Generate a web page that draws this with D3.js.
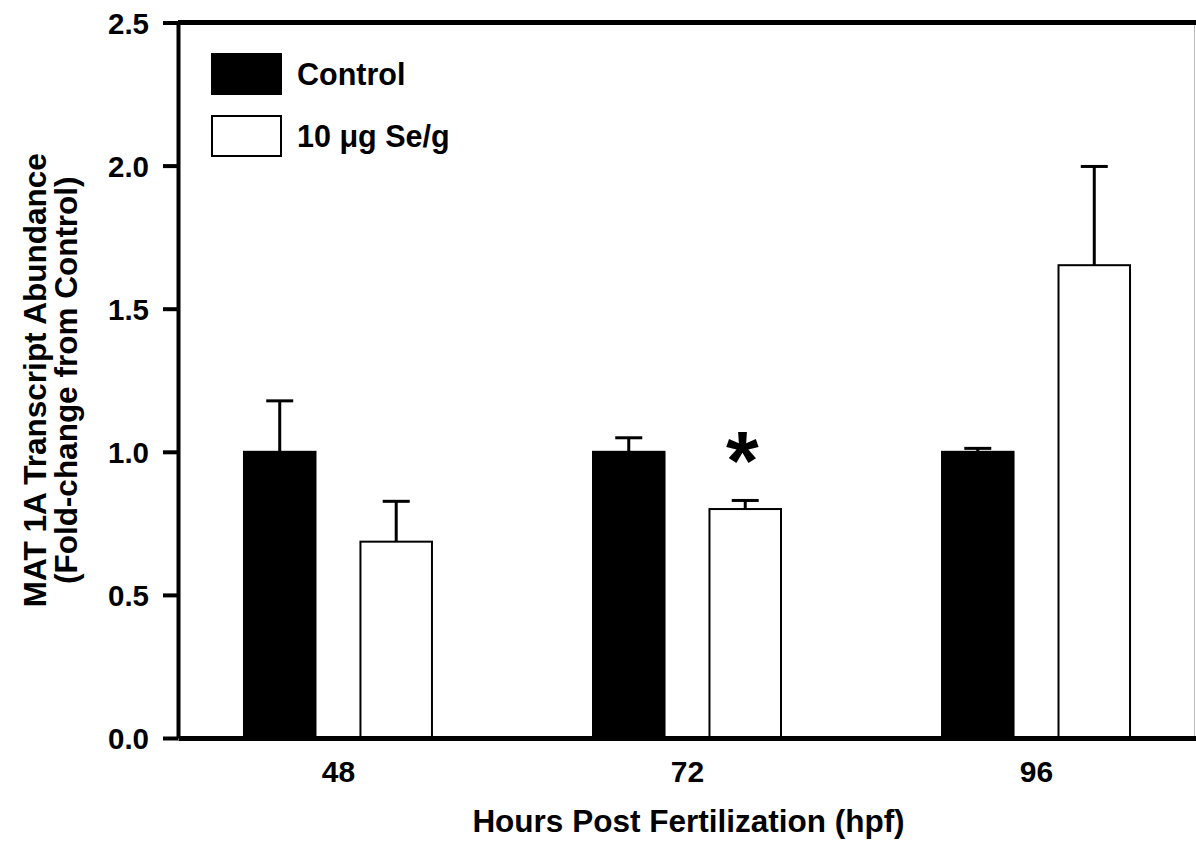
<!DOCTYPE html>
<html>
<head>
<meta charset="utf-8">
<script src="https://cdn.jsdelivr.net/npm/d3@7"></script>
<style>
  html, body { margin: 0; padding: 0; background: #fff; }
  svg { display: block; font-family: "Liberation Sans", Arial, sans-serif; font-weight: bold; }
</style>
</head>
<body>
<svg id="chart" width="1196" height="848"></svg>
<script>
// Sampling times (hours post fertilization)
const hours = [48, 72, 96];
const seriesNames = ["Control", "10 μg Se/g"];
// Mean fold-change and upper error (SEM) per time point
const controlMean = [1.0, 1.0, 1.0];
const controlErr = [0.178, 0.049, 0.012];
const seleniumMean = [0.686, 0.80, 1.652];
const seleniumErr = [0.141, 0.03, 0.345];
// Significant difference from control at each time point
const seleniumSignificant = [false, true, false];
const yTicks = [0.0, 0.5, 1.0, 1.5, 2.0, 2.5];

const svg = d3.select("#chart");
const W = 1196, H = 848;
const plotL = 178, plotR = 1196, plotT = 22.5, plotB = 738;

const x = d3.scaleLinear().domain([37, 107]).range([plotL, plotR]);
const y = d3.scaleLinear().domain([0, 2.5]).range([plotB, plotT]);
const sub = d3.scaleBand().domain(seriesNames).range([-94, 94]).paddingInner(0.386).paddingOuter(0);

const fills = { "Control": "#000", "10 μg Se/g": "#fff" };

const rows = [];
hours.forEach((h, i) => {
  rows.push({ h, s: seriesNames[0], v: controlMean[i], e: controlErr[i], sig: false });
  rows.push({ h, s: seriesNames[1], v: seleniumMean[i], e: seleniumErr[i], sig: seleniumSignificant[i] });
});

// faint frame edge on the right
svg.append("line").attr("x1", W - 1.5).attr("x2", W - 1.5).attr("y1", plotT).attr("y2", plotB)
  .attr("stroke", "#bbb").attr("stroke-width", 1);

// error bars (upper only), drawn beneath bars
const eb = svg.append("g");
rows.forEach(d => {
  const cx = x(d.h) + sub(d.s) + sub.bandwidth() / 2;
  eb.append("line").attr("x1", cx).attr("x2", cx).attr("y1", y(d.v)).attr("y2", y(d.v + d.e))
    .attr("stroke", "#000").attr("stroke-width", 3);
  eb.append("line").attr("x1", cx - 13.5).attr("x2", cx + 13.5).attr("y1", y(d.v + d.e)).attr("y2", y(d.v + d.e))
    .attr("stroke", "#000").attr("stroke-width", 3);
});

// bars
svg.append("g").selectAll("rect").data(rows).join("rect")
  .attr("x", d => x(d.h) + sub(d.s))
  .attr("width", sub.bandwidth())
  .attr("y", d => y(d.v))
  .attr("height", d => y(0) - y(d.v))
  .attr("fill", d => fills[d.s])
  .attr("stroke", "#000")
  .attr("stroke-width", 2);

// significance markers
svg.append("g").selectAll("text").data(rows.filter(d => d.sig)).join("text")
  .attr("x", d => x(d.h) + sub(d.s) + sub.bandwidth() / 2 - 3)
  .attr("y", d => y(d.v + d.e) - 10)
  .attr("text-anchor", "middle")
  .attr("font-size", 84)
  .text("*");

// top frame line
svg.append("line").attr("x1", plotL).attr("x2", plotR).attr("y1", plotT).attr("y2", plotT)
  .attr("stroke", "#000").attr("stroke-width", 5);

// y axis
const yAxis = svg.append("g").attr("transform", `translate(${plotL},0)`)
  .call(d3.axisLeft(y).tickValues(yTicks).tickFormat(d3.format(".1f")).tickSize(15).tickSizeOuter(0).tickPadding(14));
yAxis.select(".domain").attr("stroke-width", 4);
yAxis.selectAll(".tick line").attr("stroke-width", 4);
yAxis.selectAll(".tick text").attr("font-size", 29.5).attr("font-family", "Liberation Sans, Arial, sans-serif")
  .attr("font-weight", "bold").attr("fill", "#000").attr("dy", "0.36em");

// x axis
const xAxis = svg.append("g").attr("transform", `translate(0,${plotB})`)
  .call(d3.axisBottom(x).tickValues(hours).tickFormat(d3.format("d")).tickSize(0).tickSizeOuter(0).tickPadding(38));
xAxis.select(".domain").attr("stroke-width", 5);
xAxis.selectAll(".tick text").attr("font-size", 30).attr("font-family", "Liberation Sans, Arial, sans-serif")
  .attr("font-weight", "bold").attr("fill", "#000").attr("dy", "0.2em");

// axis titles
svg.append("text").attr("x", (474 + 903) / 2).attr("y", 832).attr("text-anchor", "middle")
  .attr("font-size", 31.5).text("Hours Post Fertilization (hpf)");
const yt = svg.append("g").attr("transform", `translate(0,${(plotT + plotB) / 2}) rotate(-90)`);
yt.append("text").attr("x", 0).attr("y", 46).attr("text-anchor", "middle").attr("font-size", 31.5)
  .text("MAT 1A Transcript Abundance");
yt.append("text").attr("x", 0).attr("y", 77).attr("text-anchor", "middle").attr("font-size", 31.5)
  .text("(Fold-change from Control)");

// legend
const legend = svg.append("g");
seriesNames.forEach((s, i) => {
  const ly = 54 + i * 62;
  legend.append("rect").attr("x", 212).attr("y", ly).attr("width", 69).attr("height", 40)
    .attr("fill", fills[s]).attr("stroke", "#000").attr("stroke-width", 2);
  legend.append("text").attr("x", 297).attr("y", ly + 31).attr("font-size", 30.5).text(s);
});
</script>
</body>
</html>
